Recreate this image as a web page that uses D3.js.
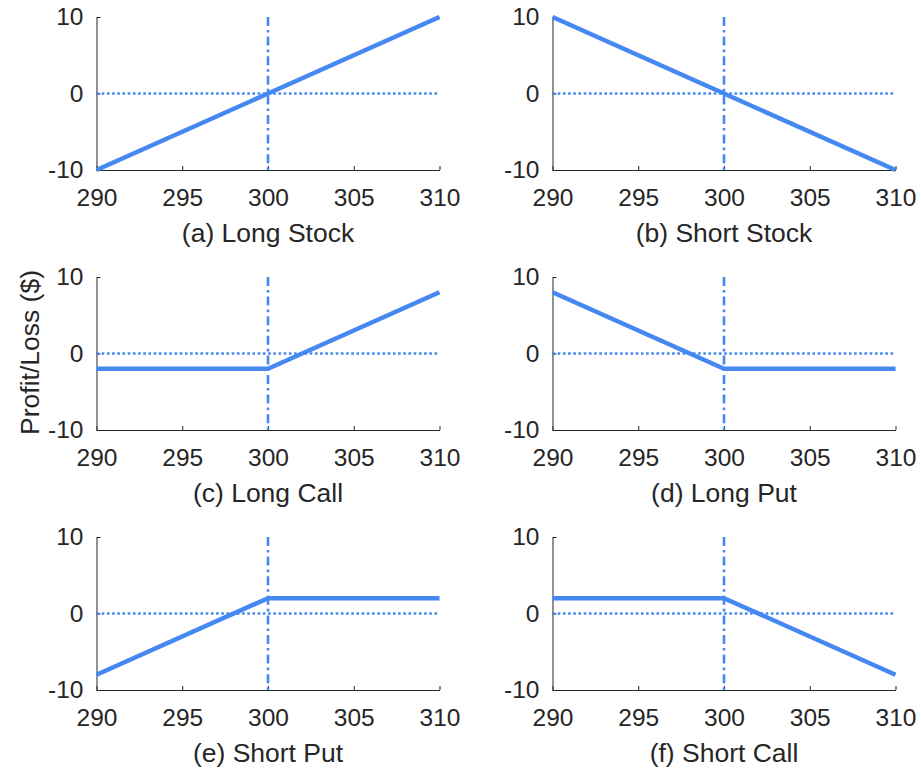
<!DOCTYPE html>
<html>
<head>
<meta charset="utf-8">
<script src="https://cdn.jsdelivr.net/npm/d3@7"></script>
<style>
  html, body { margin: 0; padding: 0; background: #fff; }
  svg text { font-family: "Liberation Sans", Arial, Helvetica, sans-serif; fill: #262626; }
</style>
</head>
<body>
<svg id="chart" width="921" height="770"></svg>
<script>
// Payoff diagrams for six basic option / stock positions, strike 300
const prices = [290, 300, 310];
const xTicks = [290, 295, 300, 305, 310];
const yTicks = [-10, 0, 10];
const strike = 300;

const titles = [
  "(a) Long Stock", "(b) Short Stock",
  "(c) Long Call", "(d) Long Put",
  "(e) Short Put", "(f) Short Call"
];
const longStock  = [-10, 0, 10];
const shortStock = [10, 0, -10];
const longCall   = [-2, -2, 8];
const longPut    = [8, -2, -2];
const shortPut   = [-8, 2, 2];
const shortCall  = [2, 2, -8];
const series = [longStock, shortStock, longCall, longPut, shortPut, shortCall];

const yLabel = "Profit/Loss ($)";

const svg = d3.select("#chart");
const blue = "#4688f2";
const ink = "#262626";

const colLeft = [96.5, 552.5];
const plotW = 343;
const rowTop = [17, 277, 537];
const plotH = 153;

series.forEach((vals, i) => {
  const col = i % 2, row = Math.floor(i / 2);
  const g = svg.append("g")
    .attr("transform", `translate(${colLeft[col]},${rowTop[row]})`);

  const x = d3.scaleLinear().domain([290, 310]).range([0, plotW]);
  const y = d3.scaleLinear().domain([-10, 10]).range([plotH, 0]);

  // axes: left and bottom spines, ticks pointing inward
  const xAxis = d3.axisBottom(x).tickValues(xTicks).tickFormat(d => String(d))
    .tickSizeInner(-4).tickSizeOuter(0).tickPadding(19);
  const yAxis = d3.axisLeft(y).tickValues(yTicks).tickFormat(d => String(d))
    .tickSizeInner(-4).tickSizeOuter(0).tickPadding(13);

  const gx = g.append("g").attr("transform", `translate(0,${plotH})`).call(xAxis);
  const gy = g.append("g").call(yAxis);
  [gx, gy].forEach(a => {
    a.select(".domain").attr("stroke", ink).attr("stroke-width", 1);
    a.selectAll(".tick line").attr("stroke", ink).attr("stroke-width", 1);
    a.selectAll(".tick text").style("font-size", "24.5px").attr("fill", ink);
  });
  gx.selectAll(".tick text").attr("dy", "0.71em");

  // zero line (dotted)
  g.append("line")
    .attr("x1", x(290)).attr("x2", x(310))
    .attr("y1", y(0)).attr("y2", y(0))
    .attr("stroke", blue).attr("stroke-width", 2.6)
    .attr("stroke-dasharray", "2.6,2.6");

  // strike line (dash-dot)
  g.append("line")
    .attr("x1", x(strike)).attr("x2", x(strike))
    .attr("y1", y(10)).attr("y2", y(-10))
    .attr("stroke", blue).attr("stroke-width", 2.6)
    .attr("stroke-dasharray", "9,4,2.6,4");

  // payoff line
  const line = d3.line().x((d, k) => x(prices[k])).y(d => y(d));
  g.append("path")
    .datum(vals)
    .attr("d", line)
    .attr("fill", "none")
    .attr("stroke", blue)
    .attr("stroke-width", 4.5)
    .attr("stroke-linejoin", "round");

  // panel caption
  g.append("text")
    .attr("x", plotW / 2).attr("y", plotH + 72)
    .attr("text-anchor", "middle")
    .style("font-size", "26.5px")
    .text(titles[i]);
});

// shared y label
svg.append("text")
  .attr("transform", `translate(39,${rowTop[1] + plotH / 2 - 1}) rotate(-90)`)
  .attr("text-anchor", "middle")
  .style("font-size", "26.5px")
  .text(yLabel);
</script>
</body>
</html>
